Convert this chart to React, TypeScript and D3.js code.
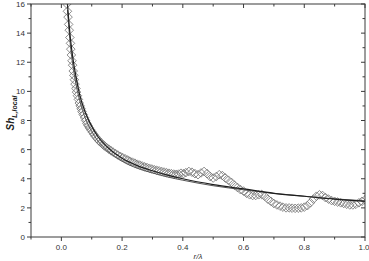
import React from "react";
import * as d3 from "d3";

const W = 369;
const H = 261;

// Experimental local Sherwood number (diamonds)
const expX = [
  0.018, 0.020, 0.022, 0.024, 0.026, 0.028, 0.030, 0.031, 0.033, 0.035,
  0.037, 0.039, 0.041, 0.043, 0.045, 0.048, 0.050, 0.053, 0.056, 0.059,
  0.062, 0.065, 0.068, 0.072, 0.076, 0.080, 0.084, 0.088, 0.092, 0.097,
  0.102, 0.107, 0.112, 0.118, 0.124, 0.130, 0.136, 0.142, 0.149, 0.156,
  0.163, 0.170, 0.178, 0.186, 0.194, 0.202, 0.210, 0.218, 0.226, 0.234,
  0.242, 0.250, 0.258, 0.266, 0.274, 0.282, 0.290, 0.298, 0.306, 0.314,
  0.322, 0.330, 0.338, 0.346, 0.354, 0.362, 0.370, 0.378, 0.386, 0.394,
  0.402, 0.410, 0.420, 0.430, 0.440, 0.450, 0.460, 0.470, 0.480, 0.490,
  0.500, 0.510, 0.520, 0.530, 0.540, 0.550, 0.560, 0.570, 0.580, 0.590,
  0.600, 0.610, 0.620, 0.630, 0.640, 0.650, 0.660, 0.670, 0.680, 0.690,
  0.700, 0.710, 0.720, 0.730, 0.740, 0.750, 0.760, 0.770, 0.780, 0.790,
  0.800, 0.810, 0.820, 0.830, 0.840, 0.850, 0.860, 0.870, 0.880, 0.890,
  0.900, 0.910, 0.920, 0.930, 0.940, 0.950, 0.960, 0.970, 0.980, 0.990,
  1.000,
];
const expY = [
  16.0, 15.5, 15.1, 14.6, 14.2, 13.7, 13.3, 12.9, 12.5, 12.1,
  11.8, 11.4, 11.1, 10.8, 10.5, 10.2, 9.95, 9.7, 9.45, 9.2,
  9.0, 8.8, 8.6, 8.4, 8.2, 8.0, 7.8, 7.65, 7.5, 7.35,
  7.2, 7.05, 6.9, 6.75, 6.6, 6.48, 6.36, 6.25, 6.14, 6.03,
  5.93, 5.83, 5.73, 5.63, 5.54, 5.45, 5.37, 5.29, 5.21, 5.14,
  5.07, 5.0, 4.94, 4.88, 4.82, 4.77, 4.72, 4.67, 4.62, 4.58,
  4.54, 4.5, 4.46, 4.42, 4.38, 4.35, 4.32, 4.3, 4.32, 4.38,
  4.35, 4.42, 4.5, 4.45, 4.35, 4.28, 4.4, 4.5, 4.35, 4.15,
  4.05, 4.15, 4.28, 4.22, 4.05, 3.9, 3.75, 3.55, 3.4, 3.25,
  3.15, 3.0, 2.9, 2.85, 2.85, 2.9, 2.92, 2.8, 2.6, 2.45,
  2.3, 2.2, 2.12, 2.05, 2.0, 2.0, 1.98, 1.97, 1.98, 2.0,
  2.05, 2.15, 2.35, 2.6, 2.8, 2.9, 2.85, 2.7, 2.6, 2.5,
  2.45, 2.4, 2.35, 2.3, 2.25, 2.2, 2.2, 2.25, 2.35, 2.45,
  2.55,
];

// Correlation curves
const fitX = [0.02, 0.03, 0.04, 0.05, 0.06, 0.08, 0.10, 0.12, 0.15, 0.20, 0.25, 0.30, 0.35, 0.40, 0.50, 0.60, 0.70, 0.80, 0.90, 1.00];
const fitA = [16.0, 13.6, 12.0, 10.8, 9.8, 8.5, 7.6, 6.9, 6.2, 5.4, 4.9, 4.55, 4.25, 4.0, 3.6, 3.3, 3.0, 2.8, 2.6, 2.45];
const fitB = [15.6, 13.1, 11.5, 10.3, 9.4, 8.1, 7.25, 6.6, 5.95, 5.2, 4.72, 4.4, 4.12, 3.9, 3.52, 3.24, 3.0, 2.8, 2.62, 2.48];

const xTickLabels = ["0.0", "0.2", "0.4", "0.6", "0.8", "1.0"];
const yTickLabels = ["0", "2", "4", "6", "8", "10", "12", "14", "16"];

const L = 31, R = 365, T = 4, B = 237;

export default function App() {
  const x = d3.scaleLinear().domain([-0.1, 1.0]).range([L, R]);
  const y = d3.scaleLinear().domain([0, 16]).range([B, T]);
  const line = d3.line<[number, number]>().x(d => x(d[0])).y(d => y(d[1])).curve(d3.curveMonotoneX);
  const pathA = line(fitX.map((v, i) => [v, fitA[i]] as [number, number])) || "";
  const pathB = line(fitX.map((v, i) => [v, fitB[i]] as [number, number])) || "";
  const xMinor = d3.range(-0.1, 1.0001, 0.1);
  const yMinor = d3.range(0, 16.001, 1);
  const ax = "#3a3a3a";
  const font = "'Liberation Sans', Arial, sans-serif";
  const dw = 4.3, dh = 4.3;
  return (
    <svg width={W} height={H} style={{ position: "absolute", left: 0, top: 0, background: "#fff" }}>
      <defs>
        <clipPath id="clip"><rect x={L} y={T} width={R - L} height={B - T} /></clipPath>
      </defs>
      <g clipPath="url(#clip)">
        {expX.map((v, i) => {
          const cx = x(v), cy = y(expY[i]);
          return (
            <path key={i} d={`M${cx},${cy - dh}L${cx + dw},${cy}L${cx},${cy + dh}L${cx - dw},${cy}Z`}
              fill="none" stroke="#6e6e6e" strokeWidth={0.8} />
          );
        })}
        <path d={pathB} fill="none" stroke="#555" strokeWidth={1} />
        <path d={pathA} fill="none" stroke="#1e1e1e" strokeWidth={1.2} />
      </g>
      <rect x={L} y={T} width={R - L} height={B - T} fill="none" stroke={ax} strokeWidth={1} />
      {xMinor.map((v, i) => {
        const major = i % 2 === 1;
        const len = major ? 4 : 2.5;
        return (
          <g key={"xt" + i}>
            <line x1={x(v)} x2={x(v)} y1={B} y2={B + len} stroke={ax} strokeWidth={1} />
            <line x1={x(v)} x2={x(v)} y1={T} y2={T + len} stroke={ax} strokeWidth={1} />
          </g>
        );
      })}
      {yMinor.map((v, i) => {
        const major = i % 2 === 0;
        const len = major ? 4 : 2.5;
        return (
          <g key={"yt" + i}>
            <line x1={L - len} x2={L} y1={y(v)} y2={y(v)} stroke={ax} strokeWidth={1} />
            <line x1={R - len} x2={R} y1={y(v)} y2={y(v)} stroke={ax} strokeWidth={1} />
          </g>
        );
      })}
      {xTickLabels.map((t) => (
        <text key={"xl" + t} x={Math.min(x(+t), 364)} y={B + 13} textAnchor="middle" fontSize={8} fontFamily={font} fill="#333">{t}</text>
      ))}
      {yTickLabels.map((t) => (
        <text key={"yl" + t} x={L - 6} y={y(+t) + 3} textAnchor="end" fontSize={8} fontFamily={font} fill="#333">{t}</text>
      ))}
      <text x={(L + R) / 2} y={259} textAnchor="middle" fontSize={8} fontStyle="italic" fontFamily={font} fill="#333">r/λ</text>
      <text transform={`translate(14,${113}) rotate(-90)`} textAnchor="middle" fontFamily={font} fill="#222" fontWeight="bold" fontStyle="italic">
        <tspan fontSize={10}>Sh</tspan>
        <tspan fontSize={7} dy={2.5}>L,local</tspan>
      </text>
    </svg>
  );
}
